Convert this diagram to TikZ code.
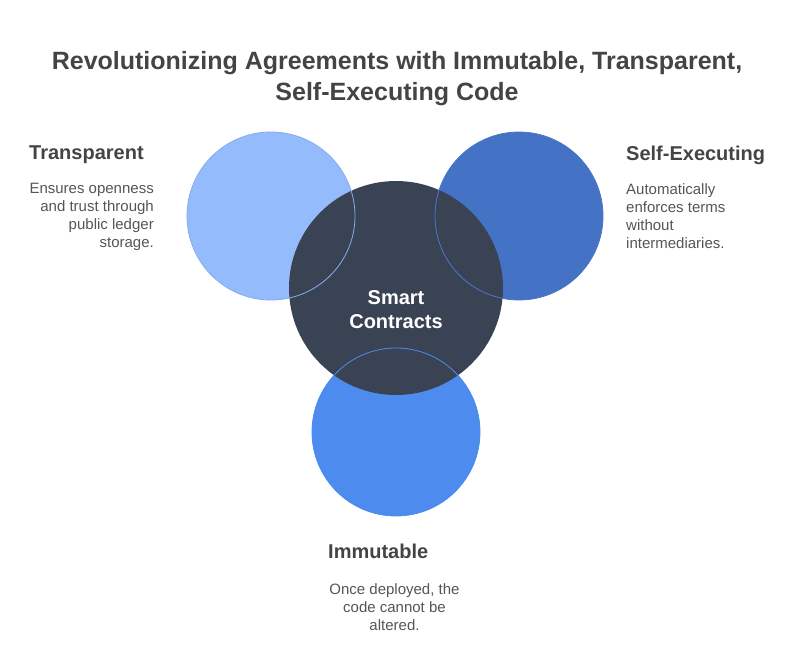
\documentclass[tikz,border=0pt]{standalone}
\usepackage{fontspec}
\setmainfont{Liberation Sans}
\definecolor{cLight}{HTML}{94BBFC}
\definecolor{cLightS}{HTML}{86ACEE}
\definecolor{cRight}{HTML}{4472C4}
\definecolor{cRightS}{HTML}{4A78CC}
\definecolor{cBottom}{HTML}{4E8BEE}
\definecolor{cBottomS}{HTML}{4E8BEE}
\definecolor{cDark}{HTML}{3A4354}
\definecolor{cHead}{HTML}{444444}
\definecolor{cText}{HTML}{555555}
\begin{document}
\begin{tikzpicture}[x=1pt,y=-1pt,
  titletext/.style={font=\bfseries\fontsize{25}{31}\selectfont, text=cHead, align=center, inner sep=0pt},
  headtext/.style={font=\bfseries\fontsize{20}{22}\selectfont, text=cHead, inner sep=0pt},
  desctext/.style={font=\fontsize{15}{18}\selectfont, text=cText, inner sep=0pt},
  centertext/.style={font=\bfseries\fontsize{20}{24}\selectfont, text=white, align=center, inner sep=0pt},
  ring/.style={circle, inner sep=0pt, minimum size=168pt}]
\useasboundingbox (0,0) rectangle (792,648);
% outer fills
\node[ring, fill=cLight] (lft) at (271,216) {};
\node[ring, fill=cRight] (rgt) at (519,216) {};
\node[ring, fill=cBottom] (bot) at (396,432) {};
% center
\node[circle, inner sep=0pt, minimum size=214pt, fill=cDark] (ctr) at (396,288) {};
% outer strokes on top
\draw[cLightS, line width=0.8pt] (lft.center) circle[radius=84];
\draw[cRightS, line width=0.8pt] (rgt.center) circle[radius=84];
\draw[cBottomS, line width=0.8pt] (bot.center) circle[radius=84];
\node[centertext] (ctrtxt) at (396,310) {Smart\\Contracts};
% title
\node[titletext] (title) at (397,79) {Revolutionizing Agreements with Immutable, Transparent,\\Self-Executing Code};
% transparent
\node[headtext, anchor=west] (th) at (29,155) {Transparent};
\node[desctext, anchor=north east, align=right] (td) at (154,183) {Ensures openness\\and trust through\\public ledger\\storage.};
% self-executing
\node[headtext, anchor=west] (sh) at (626,155) {Self-Executing};
\node[desctext, anchor=north west, align=left] (sd) at (626,183) {Automatically\\enforces terms\\without\\intermediaries.};
% immutable
\node[headtext, anchor=west] (ih) at (328,551) {Immutable};
\node[desctext, anchor=north, align=center] (id) at (394.5,583) {Once deployed, the\\code cannot be\\altered.};
\end{tikzpicture}
\end{document}
